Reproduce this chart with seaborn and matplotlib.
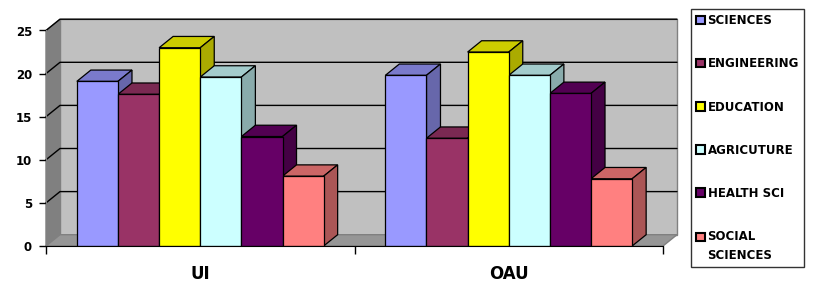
import numpy as np
import pandas as pd
import seaborn as sns
from matplotlib import pyplot as plt
from matplotlib.patches import Polygon, Patch

# data
campuses = ["UI", "OAU"]
faculties = ["SCIENCES", "ENGINEERING", "EDUCATION", "AGRICUTURE", "HEALTH SCI", "SOCIAL\nSCIENCES"]
ui_values = [19.1, 17.6, 23.0, 19.6, 12.7, 8.1]
oau_values = [19.8, 12.5, 22.5, 19.8, 17.7, 7.8]
colors = ["#9999FF", "#993366", "#FFFF00", "#CCFFFF", "#660066", "#FF8080"]

df = pd.DataFrame({
    "campus": np.repeat(campuses, len(faculties)),
    "faculty": faculties * len(campuses),
    "value": ui_values + oau_values,
})

sns.set_style("white")
plt.rcParams["font.family"] = ["DejaVu Sans"]
plt.rcParams["font.weight"] = "bold"
plt.rcParams["text.color"] = "black"
plt.rcParams["xtick.color"] = "black"
plt.rcParams["ytick.color"] = "black"

W, H = 813, 289
fig = plt.figure(figsize=(W / 100, H / 100), dpi=100)
# front plane of the plot area, in pixels
left, right, top, bottom = 46, 663, 30.5, 246
ax = fig.add_axes([left / W, 1 - bottom / H, (right - left) / W, (bottom - top) / H])

sns.barplot(data=df, x="campus", y="value", hue="faculty", palette=colors,
            width=0.8, saturation=1, edgecolor="black", linewidth=0.9,
            legend=False, ax=ax, zorder=3)

ymax = 25
ax.set_ylim(0, ymax)
ax.set_xlim(-0.5, len(campuses) - 0.5)
xmin, xmax = ax.get_xlim()

# depth offset of the 3d look, pixels -> data units
depth_px = (14, 11.3)
dx = depth_px[0] / (right - left) * (xmax - xmin)
dy = depth_px[1] / (bottom - top) * ymax

# walls and floor
back = Polygon([(xmin + dx, dy), (xmax + dx, dy), (xmax + dx, ymax + dy), (xmin + dx, ymax + dy)],
               facecolor="#C0C0C0", edgecolor="#808080", lw=1, clip_on=False, zorder=0)
side = Polygon([(xmin, 0), (xmin + dx, dy), (xmin + dx, ymax + dy), (xmin, ymax)],
               facecolor="#808080", edgecolor="#808080", lw=1, clip_on=False, zorder=0)
floor = Polygon([(xmin, 0), (xmax, 0), (xmax + dx, dy), (xmin + dx, dy)],
                facecolor="#969696", edgecolor="#808080", lw=1, clip_on=False, zorder=0)
for p in (back, side, floor):
    ax.add_patch(p)

for v in range(5, ymax + 1, 5):
    ax.plot([xmin, xmin + dx, xmax + dx], [v, v + dy, v + dy], color="black", lw=1,
            clip_on=False, zorder=1)

# top and side faces of each bar
for bar in list(ax.patches):
    if bar in (back, side, floor) or bar.get_height() <= 0:
        continue
    x, w, h = bar.get_x(), bar.get_width(), bar.get_height()
    fc = np.array(bar.get_facecolor()[:3])
    top_face = Polygon([(x, h), (x + w, h), (x + w + dx, h + dy), (x + dx, h + dy)],
                       facecolor=fc * 0.8, edgecolor="black", lw=0.9, clip_on=False, zorder=2)
    side_face = Polygon([(x + w, 0), (x + w, h), (x + w + dx, h + dy), (x + w + dx, dy)],
                        facecolor=fc * 0.67, edgecolor="black", lw=0.9, clip_on=False, zorder=2)
    ax.add_patch(top_face)
    ax.add_patch(side_face)

for s in ["top", "right"]:
    ax.spines[s].set_visible(False)
ax.spines["left"].set_color("#808080")
ax.spines["bottom"].set_color("black")
ax.spines["bottom"].set_zorder(4)
ax.patch.set_alpha(0)

ax.set_yticks(range(0, ymax + 1, 5))
ax.tick_params(axis="y", direction="out", length=5, width=1, pad=5, labelsize=8.5, left=True)
ax.set_xticks(range(len(campuses)))
ax.set_xticks([xmin + i for i in range(len(campuses) + 1)], minor=True)
ax.tick_params(axis="x", which="major", length=0, pad=14, labelsize=12)
ax.tick_params(axis="x", which="minor", direction="out", length=6, width=1, bottom=True)
for lab in ax.get_xticklabels() + ax.get_yticklabels():
    lab.set_fontweight("bold")
ax.set_xlabel("")
ax.set_ylabel("")

handles = [Patch(facecolor=c, edgecolor="black", lw=1.5) for c in colors]
leg = fig.legend(handles, faculties, loc="upper left", bbox_to_anchor=(691 / W, 1 - 9 / H),
                 borderaxespad=0, frameon=True, fancybox=False, edgecolor="black",
                 prop={"size": 8.5, "weight": "bold"}, labelspacing=2.55,
                 handlelength=0.7, handleheight=0.7, handletextpad=0.25, borderpad=0.45)
leg.get_frame().set_linewidth(1)
leg.get_texts()[-1].set_linespacing(1.6)
# align the last marker with the first line of its two-line label
last = leg.legend_handles[-1]
last.set_y(last.get_y() + 0.85 * 8.5)

plt.savefig("out.png", dpi=100)
